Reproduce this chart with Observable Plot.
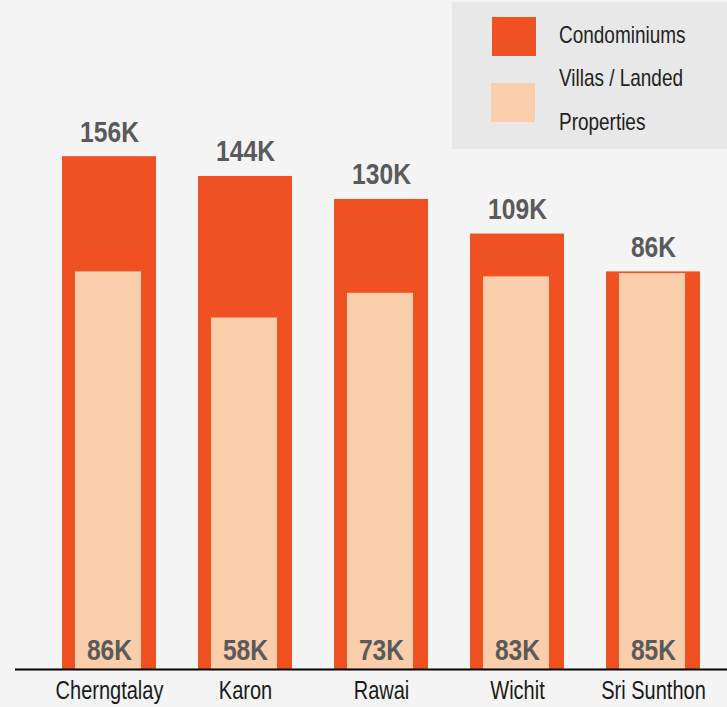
<!DOCTYPE html>
<html><head><meta charset="utf-8">
<script src="https://cdn.jsdelivr.net/npm/d3@7"></script>
<script src="https://cdn.jsdelivr.net/npm/@observablehq/plot@0.6"></script>
<style>
html,body{margin:0;padding:0;background:#f4f4f4;}
#wrap{position:relative;width:727px;height:707px;overflow:hidden;}
#legend{position:absolute;left:452px;top:2px;}
</style></head><body>
<div id="wrap"><div id="chart"></div></div>
<script>
// Data (thousands)
const areas = ["Cherngtalay", "Karon", "Rawai", "Wichit", "Sri Sunthon"];
const condominiums = [156, 144, 130, 109, 86];
const villas = [86, 58, 73, 83, 85];
const seriesNames = ["Condominiums", "Villas / Landed", "Properties"];
const axisStart = -155.6;
const axisEnd = 250;

const colors = {condo: "#F05123", villa: "#FACDAB", label: "#5a5a5a", bg: "#f4f4f4", legendBg: "#e8e8e8"};
const font = "'Liberation Sans', Arial, sans-serif";

const data = areas.map((a, i) => ({area: a, condo: condominiums[i], villa: villas[i]}));

const chart = Plot.plot({
  width: 727, height: 707,
  marginLeft: 15, marginRight: 0, marginTop: 1.5, marginBottom: 38,
  style: {background: colors.bg, fontFamily: font, overflow: "visible"},
  x: {domain: areas, paddingInner: 0.309, paddingOuter: 0.272, align: 0.635, label: null},
  y: {domain: [axisStart, axisEnd], axis: null},
  marks: [
    Plot.barY(data, {x: "area", y1: axisStart, y2: "condo", fill: colors.condo}),
    Plot.barY(data, {x: "area", y1: axisStart, y2: "villa", fill: colors.villa, insetLeft: 13, insetRight: 15}),
    Plot.text(data, {x: "area", y: "condo", text: d => d.condo + "K", dy: -15, lineAnchor: "bottom",
      fontSize: 30, fontWeight: "bold", fill: colors.label}),
    Plot.text(data, {x: "area", y: axisStart, text: d => d.villa + "K", dy: -10, lineAnchor: "bottom",
      fontSize: 30, fontWeight: "bold", fill: colors.label}),
    Plot.ruleY([axisStart], {stroke: "#000", strokeWidth: 2}),
    Plot.axisX({tickSize: 0, tickPadding: 12, fontSize: 25, fill: "#1a1a1a", label: null})
  ]
});
document.getElementById("chart").appendChild(chart);

// Legend
const lg = d3.select("#wrap").append("svg").attr("id", "legend").attr("width", 275).attr("height", 147)
  .style("font-family", font);
lg.append("rect").attr("width", 275).attr("height", 147).attr("fill", colors.legendBg);
lg.append("rect").attr("x", 40).attr("y", 15).attr("width", 44).attr("height", 39).attr("fill", colors.condo);
lg.append("rect").attr("x", 39).attr("y", 81).attr("width", 44).attr("height", 39).attr("fill", colors.villa);
[[seriesNames[0], 41], [seriesNames[1], 84], [seriesNames[2], 128]].forEach(([t, y]) => {
  lg.append("text").attr("x", 107).attr("y", y).attr("font-size", 24).attr("fill", "#222").text(t);
});

// condense all text horizontally (narrow typeface look)
document.querySelectorAll("#wrap text").forEach(t => {
  const w = t.getComputedTextLength();
  const isAxis = !!t.closest('g[aria-label="x-axis tick label"]');
  const inLegend = !!t.closest("#legend");
  const f = isAxis ? 0.80 : inLegend ? 0.79 : 0.82;
  if (w > 0) {
    t.setAttribute("textLength", (w * f).toFixed(1));
    t.setAttribute("lengthAdjust", "spacingAndGlyphs");
  }
});
</script>
</body></html>
